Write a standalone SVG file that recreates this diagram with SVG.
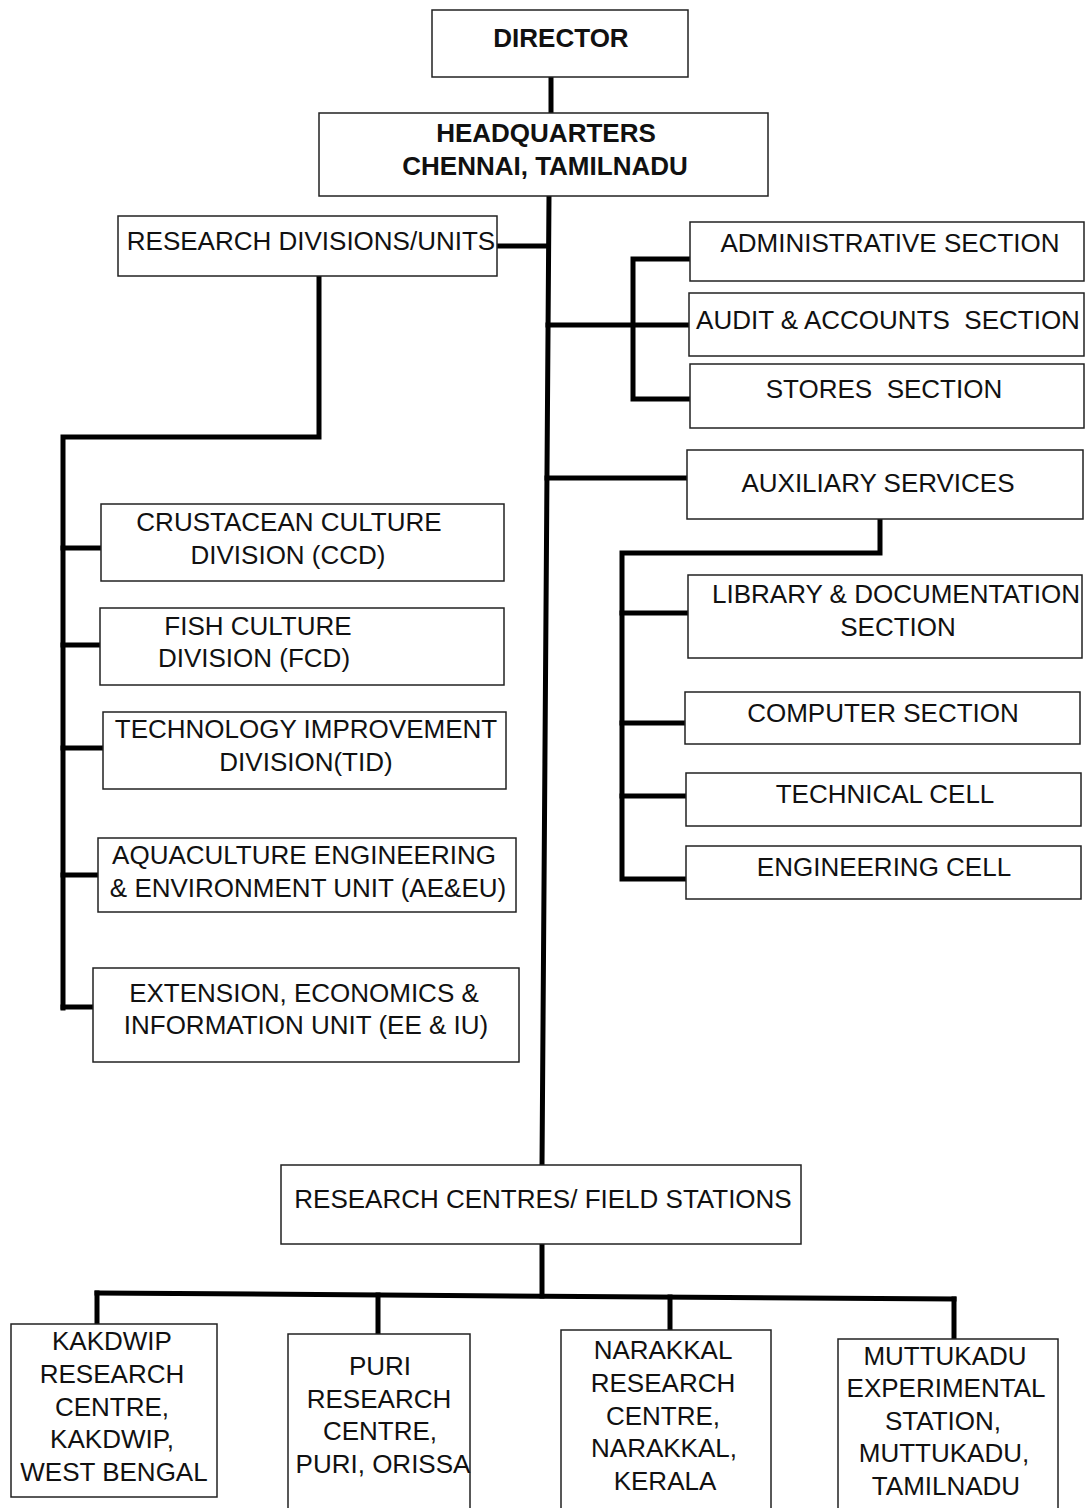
<svg xmlns="http://www.w3.org/2000/svg" width="1086" height="1508" viewBox="0 0 1086 1508">
<style>
.box{fill:#fff;stroke:#222;stroke-width:1.5}
.t{font-family:"Liberation Sans",Arial,sans-serif;font-size:26px;fill:#111;text-anchor:middle}
.b{font-weight:bold}
.c{fill:none;stroke:#000;stroke-width:5;stroke-linejoin:miter;stroke-linecap:square}
</style>
<rect width="1086" height="1508" fill="#fff"/>
<g id="connectors">
<path class="c" d="M551 77V113"/>
<path class="c" d="M549 196L542 1165"/>
<path class="c" d="M497 246H548"/>
<path class="c" d="M319 276V437H63V1008"/>
<path class="c" d="M63 548H101M63 645H100M63 748H103M63 875H98M63 1007H93"/>
<path class="c" d="M548 325H689"/>
<path class="c" d="M689 259H633V399H689"/>
<path class="c" d="M547 478H687"/>
<path class="c" d="M880 519V553H622V879H686"/>
<path class="c" d="M622 613H688M622 723H685M622 796H686"/>
<path class="c" d="M542 1244V1296"/>
<path class="c" d="M97 1293L954 1299"/>
<path class="c" d="M97 1293V1324M378 1295V1334M670 1297V1330M954 1299V1339"/>
</g>
<g id="director"><rect class="box" x="432" y="10" width="256" height="67"/><text class="t b" x="561" y="47">DIRECTOR</text></g>
<g id="hq"><rect class="box" x="319" y="113" width="449" height="83"/><text class="t b" x="546" y="142">HEADQUARTERS</text><text class="t b" x="545" y="175">CHENNAI, TAMILNADU</text></g>
<g id="research-divisions"><rect class="box" x="118" y="216" width="379" height="60"/><text class="t" x="311" y="250">RESEARCH DIVISIONS/UNITS</text></g>
<g id="admin"><rect class="box" x="690" y="222" width="394" height="59"/><text class="t" x="890" y="252">ADMINISTRATIVE SECTION</text></g>
<g id="audit"><rect class="box" x="689" y="293" width="395" height="63"/><text class="t" x="888" y="329" xml:space="preserve">AUDIT &amp; ACCOUNTS  SECTION</text></g>
<g id="stores"><rect class="box" x="690" y="364" width="394" height="64"/><text class="t" x="884" y="398" xml:space="preserve">STORES  SECTION</text></g>
<g id="auxiliary"><rect class="box" x="687" y="450" width="396" height="69"/><text class="t" x="878" y="492">AUXILIARY SERVICES</text></g>
<g id="library"><rect class="box" x="688" y="575" width="394" height="83"/><text class="t" x="896" y="603">LIBRARY &amp; DOCUMENTATION</text><text class="t" x="898" y="636">SECTION</text></g>
<g id="computer"><rect class="box" x="685" y="692" width="395" height="52"/><text class="t" x="883" y="722">COMPUTER SECTION</text></g>
<g id="technical"><rect class="box" x="686" y="773" width="395" height="53"/><text class="t" x="885" y="803">TECHNICAL CELL</text></g>
<g id="engineering"><rect class="box" x="686" y="846" width="395" height="53"/><text class="t" x="884" y="876">ENGINEERING CELL</text></g>
<g id="ccd"><rect class="box" x="101" y="504" width="403" height="77"/><text class="t" x="289" y="531">CRUSTACEAN CULTURE</text><text class="t" x="288" y="564">DIVISION (CCD)</text></g>
<g id="fcd"><rect class="box" x="100" y="608" width="404" height="77"/><text class="t" x="258" y="635">FISH CULTURE</text><text class="t" x="254" y="667">DIVISION (FCD)</text></g>
<g id="tid"><rect class="box" x="103" y="712" width="403" height="77"/><text class="t" x="306" y="738">TECHNOLOGY IMPROVEMENT</text><text class="t" x="306" y="771">DIVISION(TID)</text></g>
<g id="aeeu"><rect class="box" x="98" y="838" width="418" height="74"/><text class="t" x="304" y="864">AQUACULTURE ENGINEERING</text><text class="t" x="308" y="897">&amp; ENVIRONMENT UNIT (AE&amp;EU)</text></g>
<g id="eeiu"><rect class="box" x="93" y="968" width="426" height="94"/><text class="t" x="304" y="1002">EXTENSION, ECONOMICS &amp;</text><text class="t" x="306" y="1034">INFORMATION UNIT (EE &amp; IU)</text></g>
<g id="research-centres"><rect class="box" x="281" y="1165" width="520" height="79"/><text class="t" x="543" y="1208">RESEARCH CENTRES/ FIELD STATIONS</text></g>
<g id="kakdwip"><rect class="box" x="11" y="1324" width="206" height="173"/>
<text class="t" x="112" y="1350">KAKDWIP</text><text class="t" x="112" y="1383">RESEARCH</text><text class="t" x="112" y="1416">CENTRE,</text><text class="t" x="112" y="1448">KAKDWIP,</text><text class="t" x="114" y="1481">WEST BENGAL</text></g>
<g id="puri"><rect class="box" x="288" y="1334" width="182" height="180"/>
<text class="t" x="380" y="1375">PURI</text><text class="t" x="379" y="1408">RESEARCH</text><text class="t" x="380" y="1440">CENTRE,</text><text class="t" x="383" y="1473">PURI, ORISSA</text></g>
<g id="narakkal"><rect class="box" x="561" y="1330" width="210" height="184"/>
<text class="t" x="663" y="1359">NARAKKAL</text><text class="t" x="663" y="1392">RESEARCH</text><text class="t" x="663" y="1425">CENTRE,</text><text class="t" x="664" y="1457">NARAKKAL,</text><text class="t" x="665" y="1490">KERALA</text></g>
<g id="muttukadu"><rect class="box" x="838" y="1339" width="220" height="175"/>
<text class="t" x="945" y="1365">MUTTUKADU</text><text class="t" x="946" y="1397">EXPERIMENTAL</text><text class="t" x="943" y="1430">STATION,</text><text class="t" x="944" y="1462">MUTTUKADU,</text><text class="t" x="946" y="1495">TAMILNADU</text></g>
</svg>
